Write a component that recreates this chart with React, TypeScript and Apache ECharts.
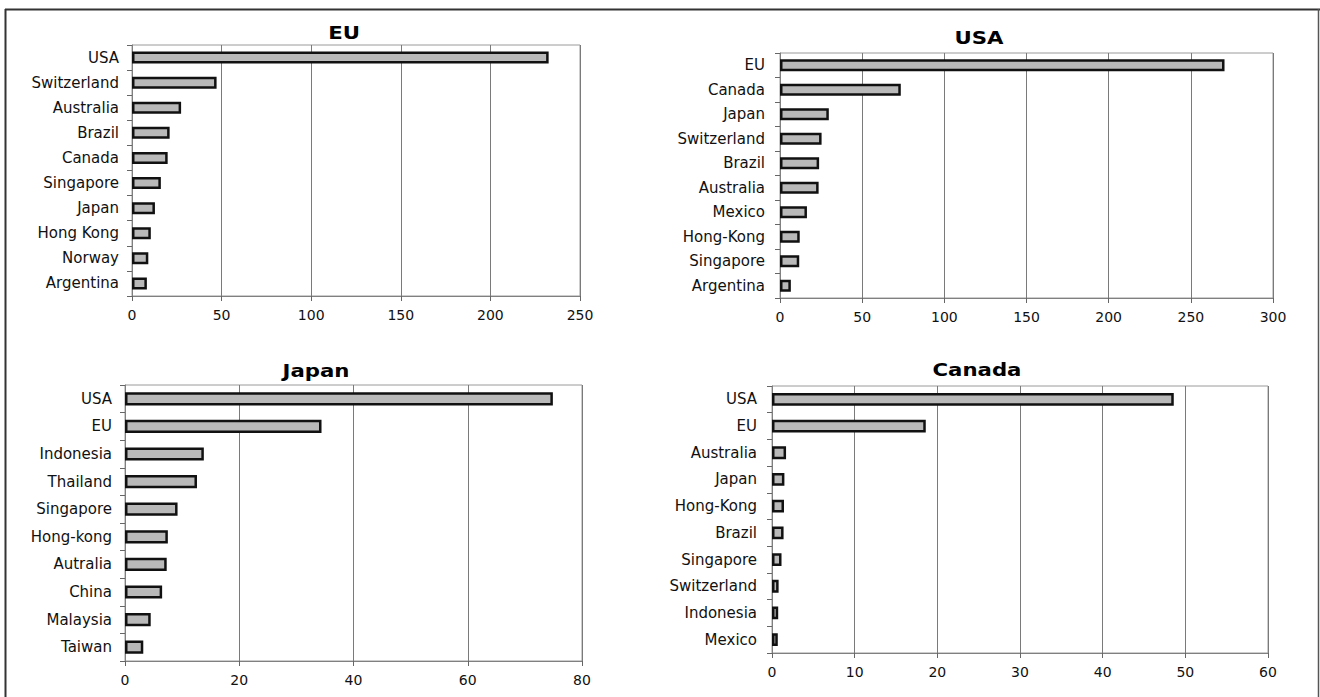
import React, { useEffect, useRef } from "react";
import * as echarts from "echarts";

const euCategories = ["USA", "Switzerland", "Australia", "Brazil", "Canada", "Singapore", "Japan", "Hong Kong", "Norway", "Argentina"];
const euValues = [232.5, 47.2, 27.4, 21, 19.9, 16.1, 12.8, 10.5, 9.1, 8.3];

const usaCategories = ["EU", "Canada", "Japan", "Switzerland", "Brazil", "Australia", "Mexico", "Hong-Kong", "Singapore", "Argentina"];
const usaValues = [270.5, 73.5, 29.7, 25.3, 23.8, 23.5, 16.4, 12, 11.7, 6.6];

const japanCategories = ["USA", "EU", "Indonesia", "Thailand", "Singapore", "Hong-kong", "Autralia", "China", "Malaysia", "Taiwan"];
const japanValues = [74.9, 34.4, 13.8, 12.6, 9.2, 7.5, 7.3, 6.5, 4.5, 3.2];

const canadaCategories = ["USA", "EU", "Australia", "Japan", "Hong-Kong", "Brazil", "Singapore", "Switzerland", "Indonesia", "Mexico"];
const canadaValues = [48.6, 18.6, 1.7, 1.5, 1.45, 1.4, 1.15, 0.8, 0.75, 0.7];

const panelTitles = ["EU", "USA", "Japan", "Canada"];
const axisMax = [250, 300, 80, 60];
const axisInterval = [50, 50, 20, 10];

const FONT = "DejaVu Sans";

export default function App() {
  const ref = useRef<HTMLDivElement>(null);

  useEffect(() => {
    document.body.style.margin = "0";
    const chart = echarts.init(ref.current!, null, { renderer: "svg" });

    const grids = [
      { left: 132, top: 45, width: 448, height: 251 },
      { left: 780, top: 53, width: 493, height: 245 },
      { left: 125, top: 385, width: 457, height: 276 },
      { left: 772, top: 386, width: 496, height: 267 },
    ];
    const labelMargins = [13, 15, 13, 15];
    const cats = [euCategories, usaCategories, japanCategories, canadaCategories];
    const vals = [euValues, usaValues, japanValues, canadaValues];
    const titlePos = [
      [344, 33],
      [979, 38],
      [316, 371],
      [977, 370],
    ];

    chart.setOption({
      animation: false,
      backgroundColor: "#ffffff",
      grid: grids.map((g) => ({
        ...g,
        show: true,
        borderColor: "#9a9a9a",
        borderWidth: 1,
        backgroundColor: "transparent",
        containLabel: false,
      })),
      xAxis: grids.map((_, i) => ({
        type: "value",
        gridIndex: i,
        min: 0,
        max: axisMax[i],
        interval: axisInterval[i],
        axisLine: { show: true, lineStyle: { color: "#808080", width: 1 } },
        axisTick: { show: true, length: 5, lineStyle: { color: "#666" } },
        splitLine: { show: true, lineStyle: { color: "#7a7a7a", width: 1 } },
        axisLabel: { margin: 12, fontFamily: FONT, fontSize: 14, color: "#111" },
      })),
      yAxis: grids.map((_, i) => ({
        type: "category",
        gridIndex: i,
        inverse: true,
        data: cats[i],
        axisLine: { show: true, lineStyle: { color: "#808080", width: 1 } },
        axisTick: { show: true, length: 5, lineStyle: { color: "#666" } },
        splitLine: { show: false },
        axisLabel: { margin: labelMargins[i], fontFamily: FONT, fontSize: 15, color: "#111" },
      })),
      series: grids.map((_, i) => ({
        type: "bar",
        xAxisIndex: i,
        yAxisIndex: i,
        data: vals[i],
        barWidth: "48%",
        itemStyle: { color: "#b9b9b9", borderColor: "#111111", borderWidth: 2.5 },
      })),
      graphic: [
        ...panelTitles.map((t, i) => ({
          type: "text",
          x: titlePos[i][0],
          y: titlePos[i][1],
          scaleX: 1.25,
          style: {
            text: t,
            fontFamily: FONT,
            fontWeight: "bold",
            fontSize: 17,
            fill: "#000",
            textAlign: "center",
            textVerticalAlign: "middle",
            verticalAlign: "middle",
          },
        })),
        { type: "line", shape: { x1: 5, y1: 9.5, x2: 1320, y2: 9.5 }, style: { stroke: "#333", lineWidth: 2 } },
        { type: "line", shape: { x1: 5.5, y1: 9, x2: 5.5, y2: 697 }, style: { stroke: "#333", lineWidth: 2 } },
        { type: "line", shape: { x1: 1318.5, y1: 9, x2: 1318.5, y2: 697 }, style: { stroke: "#555", lineWidth: 1.5 } },
      ],
    });

    return () => chart.dispose();
  }, []);

  return <div ref={ref} style={{ position: "absolute", left: 0, top: 0, width: 1320, height: 697 }} />;
}
